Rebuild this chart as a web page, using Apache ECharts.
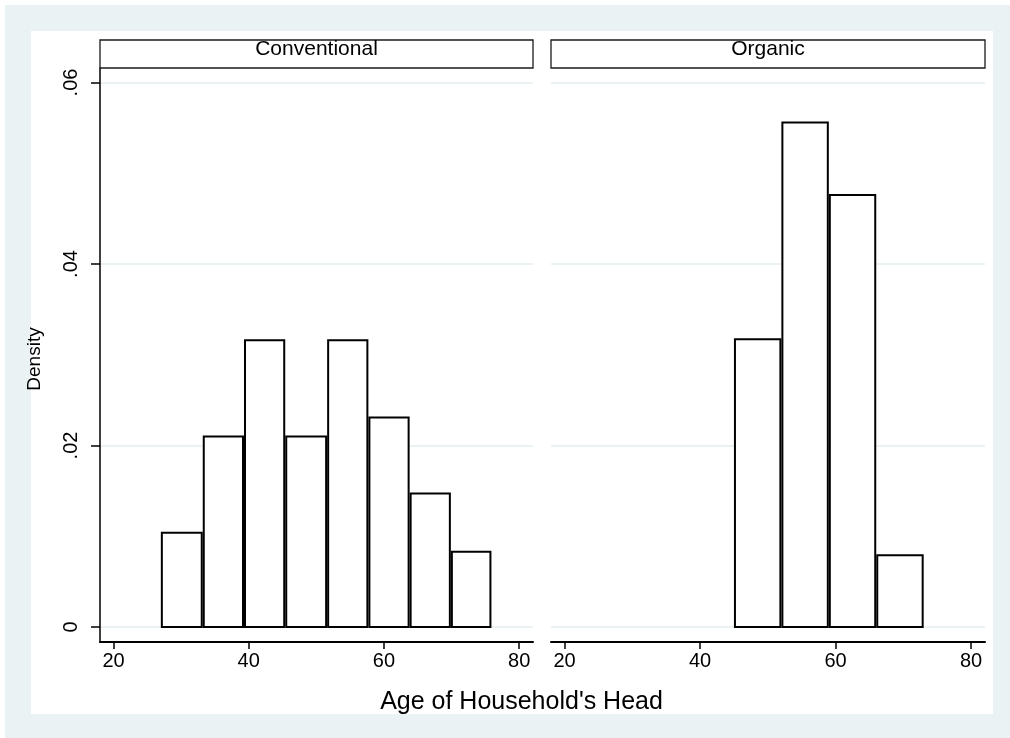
<!DOCTYPE html>
<html>
<head>
<meta charset="utf-8">
<script src="https://cdn.jsdelivr.net/npm/echarts@6/dist/echarts.min.js"></script>
<style>
  html, body { margin: 0; padding: 0; background: #ffffff; }
  #chart { width: 1010px; height: 738px; }
</style>
</head>
<body>
<div id="chart"></div>
<script>
// ---- data ----
const panelTitles = ['Conventional', 'Organic'];
const convEdges = [27, 33.2, 39.3, 45.4, 51.6, 57.7, 63.8, 69.9, 75.9];
const convDensity = [0.0104, 0.0210, 0.0316, 0.0210, 0.0316, 0.0231, 0.0147, 0.0083];
const orgEdges = [45, 52, 59, 66, 73];
const orgDensity = [0.0317, 0.0556, 0.0476, 0.0079];
const xTicks = [20, 40, 60, 80];
const yTicks = [0, 0.02, 0.04, 0.06];
const yTickLabels = ['0', '.02', '.04', '.06'];
const xTitle = "Age of Household's Head";
const yTitle = 'Density';

const FONT = '"Liberation Sans", Arial, sans-serif';
const BG = '#eaf2f3';

function bins(edges, dens) {
  return dens.map((d, i) => [edges[i], edges[i + 1], d]);
}

const X_MIN = 18, X_MAX = 82.05;
const Y_MIN = -0.00165, Y_MAX = 0.0616;

function makeX(gridIndex) {
  return {
    type: 'value', gridIndex, min: X_MIN, max: X_MAX, position: 'bottom',
    axisLine: { show: true, onZero: false, lineStyle: { color: '#000', width: 2 } },
    axisTick: { show: true, length: 7, customValues: xTicks, lineStyle: { color: '#000', width: 1.5 } },
    axisLabel: { show: true, customValues: xTicks, margin: 9, color: '#000', fontSize: 20, fontFamily: FONT },
    splitLine: { show: false }
  };
}
function makeY(gridIndex, showAxis) {
  return {
    type: 'value', gridIndex, min: Y_MIN, max: Y_MAX, position: 'left',
    axisLine: { show: showAxis, onZero: false, lineStyle: { color: '#000', width: 1.5 } },
    axisTick: { show: showAxis, length: 9, customValues: yTicks, lineStyle: { color: '#000', width: 1.5 } },
    axisLabel: {
      show: showAxis, customValues: yTicks, rotate: 90, margin: 19, color: '#000',
      fontSize: 20, fontFamily: FONT,
      formatter: v => { const i = yTicks.indexOf(v); return i >= 0 ? yTickLabels[i] : ''; }
    },
    splitLine: { show: true, lineStyle: { color: BG, width: 2 } }
  };
}

function renderBar(params, api) {
  const p0 = api.coord([api.value(0), api.value(2)]);
  const p1 = api.coord([api.value(1), 0]);
  return {
    type: 'rect',
    shape: { x: p0[0] + 1, y: p0[1], width: p1[0] - p0[0] - 2, height: p1[1] - p0[1] },
    style: { fill: '#ffffff', stroke: '#000000', lineWidth: 2 }
  };
}

const grids = [
  { left: 100, right: 477, top: 68, bottom: 96 },
  { left: 551, right: 25, top: 68, bottom: 96 }
];

function headerBox(i) {
  const g = grids[i];
  const x0 = g.left, x1 = 1010 - g.right;
  return [
    { type: 'rect', z: 5, shape: { x: x0, y: 40, width: x1 - x0, height: 28 },
      style: { fill: '#ffffff', stroke: '#1a1a1a', lineWidth: 1.3 } },
    { type: 'text', z: 6, x: (x0 + x1) / 2, y: 49,
      style: { text: panelTitles[i], fill: '#000', font: '21px ' + FONT, textAlign: 'center', textVerticalAlign: 'middle' } }
  ];
}

const option = {
  backgroundColor: '#ffffff',
  animation: false,
  grid: grids,
  xAxis: [makeX(0), makeX(1)],
  yAxis: [makeY(0, true), makeY(1, false)],
  graphic: [
    { type: 'rect', z: -20, silent: true, shape: { x: 5, y: 5, width: 1005, height: 733 }, style: { fill: BG } },
    { type: 'rect', z: -19, silent: true, shape: { x: 31, y: 31, width: 962, height: 683 }, style: { fill: '#ffffff' } },
    ...headerBox(0),
    ...headerBox(1),
    { type: 'text', x: 521.5, y: 702,
      style: { text: xTitle, fill: '#000', font: '25px ' + FONT, textAlign: 'center', textVerticalAlign: 'middle' } },
    { type: 'text', x: 35, y: 359, rotation: Math.PI / 2,
      style: { text: yTitle, fill: '#000', font: '19px ' + FONT, textAlign: 'center', textVerticalAlign: 'middle' } }
  ],
  series: [
    { type: 'custom', name: panelTitles[0], xAxisIndex: 0, yAxisIndex: 0,
      encode: { x: [0, 1], y: 2 }, data: bins(convEdges, convDensity), renderItem: renderBar },
    { type: 'custom', name: panelTitles[1], xAxisIndex: 1, yAxisIndex: 1,
      encode: { x: [0, 1], y: 2 }, data: bins(orgEdges, orgDensity), renderItem: renderBar }
  ]
};

const chart = echarts.init(document.getElementById('chart'), null, { renderer: 'canvas' });
chart.setOption(option);
</script>
</body>
</html>
